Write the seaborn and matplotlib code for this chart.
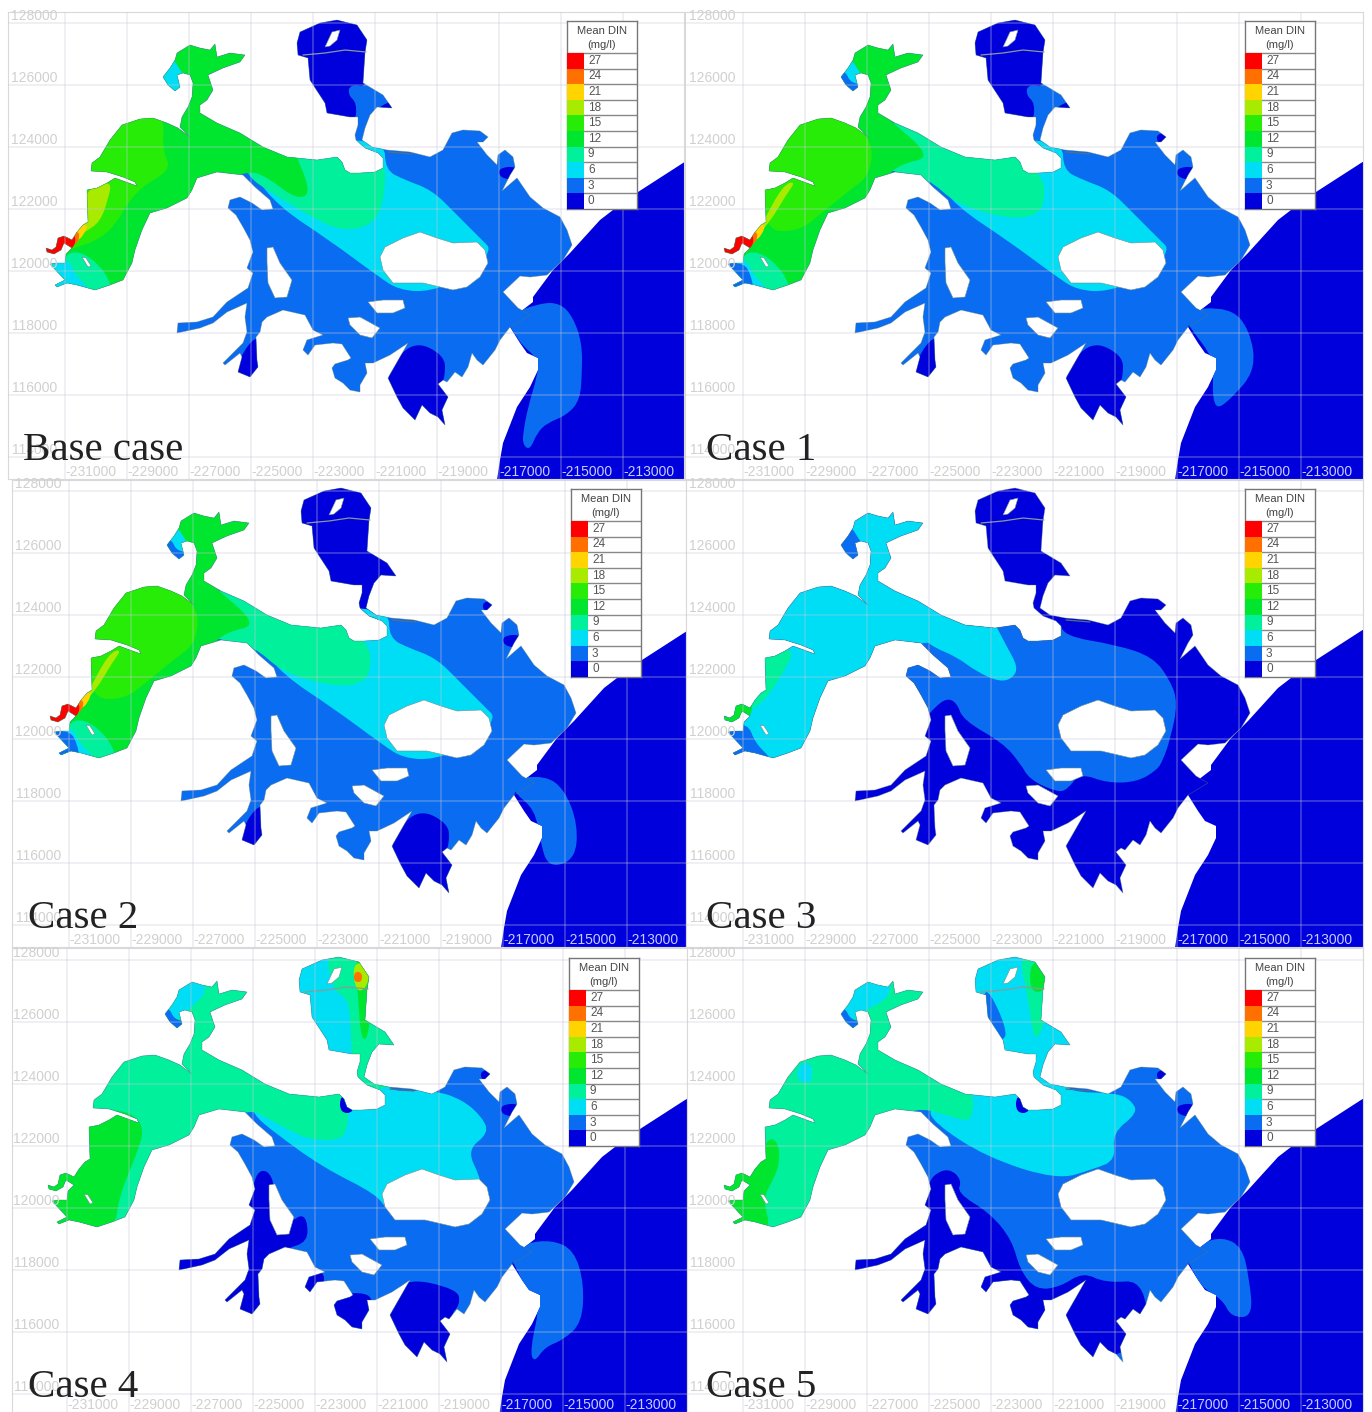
import numpy as np
import matplotlib
matplotlib.use("Agg")
import matplotlib.pyplot as plt
from matplotlib.colors import ListedColormap
from matplotlib.patches import PathPatch
from matplotlib.path import Path
import seaborn as sns

# colour classes of the DIN legend
levels = [27, 24, 21, 18, 15, 12, 9, 6, 3, 0]
level_colors = {27: "#ff0000", 24: "#ff7000", 21: "#ffd400", 18: "#a8ea00", 15: "#26ec08",
                12: "#00e62e", 9: "#00f09c", 6: "#00def5", 3: "#0a6cf0", 0: "#0000dc"}
x_ticks = list(range(-231000, -212000, 2000))
y_ticks = list(range(128000, 113000, -2000))

# outlines, in sheet units (31 units = 1000 m)
estuary = [(46, 248), (52, 250), (56, 247), (58, 238), (64, 236), (72, 240), (77, 232), (83, 225), (88, 222), (87, 190),
           (97, 188), (107, 183), (115, 178), (137, 186), (135, 182), (123, 177), (107, 172), (91, 171), (92, 163),
           (100, 157), (110, 140), (122, 125), (140, 119), (153, 118), (167, 123), (178, 128), (190, 137), (180, 127),
           (182, 117), (188, 107), (192, 97), (193, 83), (190, 75), (183, 73), (177, 75), (180, 87), (175, 91), (168, 85),
           (163, 77), (170, 68), (175, 60), (177, 53), (190, 45), (200, 48), (210, 50), (215, 44), (217, 57), (230, 53),
           (245, 55), (240, 62), (223, 68), (208, 75), (213, 90), (207, 100), (200, 105), (200, 113), (217, 123), (240, 133),
           (263, 147), (287, 157), (317, 160), (337, 157), (342, 162), (345, 170), (350, 173), (360, 173), (375, 172),
           (383, 168), (383, 158), (378, 153), (365, 148), (356, 140), (355, 135), (358, 125), (358, 117), (350, 117),
           (327, 113), (325, 103), (310, 80), (308, 58), (298, 55), (297, 43), (300, 32), (320, 23), (337, 20), (357, 25),
           (367, 40), (365, 53), (363, 83), (383, 95), (392, 108), (377, 107), (370, 115), (365, 128), (362, 140), (372, 147),
           (387, 150), (410, 152), (430, 157), (443, 150), (452, 133), (463, 130), (480, 131), (488, 137), (483, 142),
           (477, 142), (487, 155), (497, 165), (498, 155), (505, 150), (513, 157), (515, 167), (510, 175), (502, 191),
           (517, 178), (530, 197), (543, 208), (560, 217), (567, 230), (572, 245), (563, 260), (547, 275), (530, 277),
           (520, 276), (503, 292), (518, 308), (530, 315), (510, 327), (500, 340), (495, 350), (483, 365), (477, 360),
           (472, 353), (468, 367), (462, 377), (455, 372), (447, 382), (443, 380), (438, 384), (448, 397), (442, 410),
           (445, 425), (438, 417), (430, 413), (422, 405), (415, 420), (403, 408), (397, 397), (388, 378), (400, 357),
           (408, 343), (390, 355), (373, 363), (365, 363), (367, 373), (360, 385), (360, 392), (350, 390), (343, 383),
           (335, 378), (332, 368), (335, 364), (348, 360), (351, 358), (342, 344), (333, 343), (315, 345), (308, 355),
           (303, 350), (307, 340), (323, 335), (313, 330), (305, 315), (283, 310), (267, 317), (262, 322), (260, 332),
           (256, 337), (257, 360), (258, 367), (250, 377), (238, 372), (242, 357), (240, 353), (225, 365), (223, 363),
           (243, 343), (247, 332), (245, 317), (247, 303), (227, 312), (213, 323), (200, 328), (177, 333), (178, 323),
           (197, 322), (213, 317), (227, 302), (248, 288), (253, 273), (247, 268), (253, 252), (250, 240), (243, 227),
           (236, 215), (228, 208), (230, 200), (240, 197), (252, 203), (262, 210), (273, 209), (270, 200), (255, 187),
           (243, 175), (217, 172), (197, 178), (192, 190), (187, 198), (167, 208), (150, 213), (142, 230), (135, 250),
           (132, 263), (123, 280), (110, 285), (95, 290), (77, 285), (67, 283), (57, 287), (55, 285), (65, 280), (50, 264),
           (57, 263), (65, 263), (66, 254), (72, 248), (64, 243), (61, 250), (54, 254), (47, 252)]
sea = [(700, 153), (683, 163), (638, 192), (613, 210), (600, 220), (570, 253), (553, 270), (533, 297), (533, 302),
       (520, 312), (512, 322), (510, 327), (520, 343), (527, 353), (538, 358), (538, 370), (530, 387), (517, 407),
       (503, 443), (500, 460), (494, 500), (720, 500), (720, 153)]
central_island = [(380, 257), (385, 247), (403, 238), (420, 232), (437, 238), (453, 243), (477, 242), (485, 250),
                  (488, 263), (480, 277), (467, 287), (453, 290), (423, 283), (393, 283), (383, 270)]
inner_island = [(267, 248), (273, 247), (280, 263), (292, 280), (287, 297), (275, 298), (268, 283), (267, 262)]
south_island_a = [(368, 302), (383, 300), (403, 300), (405, 308), (393, 313), (377, 313)]
south_island_b = [(348, 318), (360, 317), (380, 328), (372, 338), (360, 335), (350, 325)]
bay_island = [(325, 47), (332, 32), (340, 30), (337, 40), (330, 46)]
sw_island = [(82, 257), (86, 258), (91, 266), (88, 267)]
holes = [central_island, inner_island, south_island_a, south_island_b, bay_island, sw_island]

# DIN zones, shared between cases
bay_upper = [(290, 10), (375, 10), (370, 88), (350, 84), (348, 95), (357, 103), (355, 125), (295, 125)]
bay_tip = [(380, 106), (395, 100), (395, 115), (378, 112)]
bay_all = [(290, 10), (400, 10), (400, 120), (372, 150), (378, 156), (350, 156), (295, 125)]
bay_cyan = [(290, 10), (400, 10), (400, 125), (372, 152), (390, 158), (345, 158), (295, 125)]
pond = [(256, 335), (265, 345), (265, 385), (235, 385), (239, 358)]
south_bay = [(412, 340), (445, 355), (445, 378), (440, 385), (455, 398), (450, 430), (385, 430), (385, 375)]
ne_tip = [(478, 134), (492, 132), (492, 146), (480, 144)]
east_spot = [(498, 168), (518, 166), (516, 180), (500, 178)]
inlet_spot = [(338, 158), (352, 158), (352, 176), (338, 176)]
hook_cyan = [(155, 60), (173, 58), (180, 70), (186, 78), (190, 100), (155, 100)]
hook_blue = [(158, 70), (168, 72), (172, 82), (185, 85), (185, 98), (158, 98)]
sw_teal = [(62, 256), (80, 250), (105, 270), (115, 297), (45, 297)]
sw_cyan = [(45, 260), (68, 258), (75, 275), (95, 294), (45, 297)]
sw_blue = [(45, 263), (66, 263), (73, 275), (76, 292), (45, 296)]
tail_red = [(40, 235), (72, 230), (77, 242), (68, 253), (40, 260)]
tail_orange = [(72, 232), (80, 232), (78, 243), (70, 246)]
tail_gold = [(76, 228), (88, 223), (84, 235), (76, 242)]

cyan_main = [(245, 165), (252, 173), (279, 207), (329, 240), (379, 277), (399, 290), (430, 292), (470, 275), (492, 250),
             (482, 240), (455, 213), (432, 190), (405, 180), (385, 170), (385, 140), (300, 140)]
teal_main = [(215, 115), (235, 125), (260, 145), (330, 150), (365, 175), (367, 200), (360, 215), (332, 219), (279, 205),
             (250, 178), (215, 172), (205, 165)]
green_main = [(30, 30), (260, 30), (260, 90), (205, 112), (209, 118), (255, 157), (222, 164), (205, 180), (150, 300), (30, 300)]
bright_main = [(85, 160), (115, 115), (165, 115), (195, 140), (192, 175), (172, 190), (145, 212), (120, 232), (85, 230)]
lime_main = [(105, 185), (118, 181), (108, 195), (92, 222), (78, 236), (85, 222)]

# Base case
plume_base = [(505, 316), (540, 303), (560, 303), (573, 317), (582, 343), (582, 373), (580, 400), (567, 415), (547, 423),
              (537, 433), (530, 450), (523, 445), (523, 433), (528, 407), (537, 377), (539, 360), (522, 345), (517, 337), (510, 327)]
teal_base = [(245, 165), (290, 150), (385, 150), (385, 200), (372, 226), (340, 231), (310, 216), (267, 190), (250, 178)]
green_base = [(30, 30), (290, 30), (293, 150), (307, 180), (308, 197), (293, 197), (267, 177), (248, 170), (200, 190), (150, 300), (30, 300)]
bright_base = [(85, 165), (100, 110), (165, 110), (162, 150), (172, 170), (135, 190), (110, 235), (70, 250), (60, 250)]
lime_base = [(85, 190), (112, 180), (108, 200), (100, 222), (85, 232), (72, 240), (80, 222)]

# Case 1 and 2 plumes
plume_c1 = [(502, 310), (552, 307), (572, 330), (578, 370), (552, 400), (537, 410), (534, 385), (537, 360), (510, 325)]
plume_c2 = [(503, 312), (541, 307), (561, 322), (574, 357), (571, 392), (544, 400), (536, 372), (531, 342), (511, 325)]

# Case 3
blue_c3 = [(314, 150), (382, 150), (385, 168), (439, 177), (475, 189), (492, 212), (500, 235), (492, 272), (485, 292),
           (479, 302), (459, 314), (429, 315), (402, 305), (389, 322), (379, 324), (352, 312), (342, 295), (325, 275),
           (285, 252), (279, 235), (269, 230), (257, 239), (248, 250), (220, 250), (220, 170)]
cyan_c3 = [(30, 30), (250, 30), (314, 150), (329, 179), (340, 199), (335, 210), (322, 214), (299, 204), (279, 189),
           (255, 179), (248, 172), (200, 195), (150, 300), (30, 300)]
sw_blue_c3 = [(45, 258), (70, 255), (77, 275), (95, 292), (85, 297), (45, 297)]
teal_c3 = [(80, 180), (118, 180), (105, 205), (92, 225), (78, 240), (70, 240)]
tail_c3 = [(40, 230), (72, 232), (75, 240), (70, 253), (40, 258)]

# Case 4
plume_c4 = [(505, 316), (524, 306), (550, 303), (572, 313), (582, 346), (580, 386), (561, 403), (543, 410), (532, 426), (528, 413),
            (539, 363), (524, 353), (513, 328)]
dark_west_c4 = [(255, 235), (265, 233), (272, 245), (270, 255), (290, 285), (298, 278), (305, 282), (306, 305), (283, 312),
                (262, 328), (262, 385), (230, 385), (215, 370), (170, 340), (170, 318), (240, 280), (250, 255)]
tongue_c4 = [(300, 336), (322, 333), (322, 350), (308, 360), (298, 360)]
lower_bay_c4 = [(330, 358), (360, 355), (372, 362), (372, 397), (330, 397)]
south_bay_c4 = [(400, 340), (456, 352), (458, 368), (448, 378), (455, 400), (455, 430), (385, 430), (385, 375)]
cyan_c4 = [(250, 170), (254, 180), (272, 195), (320, 230), (376, 258), (385, 275), (478, 248), (478, 240), (465, 213),
           (487, 196), (480, 180), (461, 163), (432, 153), (387, 155), (385, 140), (300, 140)]
teal_c4 = [(30, 30), (260, 30), (340, 140), (346, 165), (346, 190), (339, 203), (309, 203), (287, 193), (265, 181),
           (248, 172), (200, 190), (130, 300), (30, 300)]
hook_cyan_c4 = [(158, 40), (200, 40), (205, 55), (190, 70), (180, 78), (155, 100)]
green_c4 = [(80, 175), (124, 172), (144, 190), (131, 226), (117, 260), (112, 297), (30, 297), (30, 225)]
bay_teal_c4 = [(322, 12), (332, 55), (347, 62), (349, 100), (350, 125), (355, 147), (375, 153), (388, 150), (398, 112), (388, 92), (378, 12)]
bay_green_c4 = [(353, 18), (372, 18), (370, 60), (366, 102), (359, 102), (356, 60)]
bay_lime_c4 = [(350, 26), (368, 26), (366, 50), (354, 56)]
bay_orange_c4 = [(352, 35), (360, 35), (360, 45), (352, 45)]

# Case 5
plume_c5 = [(505, 316), (523, 306), (545, 300), (564, 310), (571, 340), (575, 380), (553, 380), (545, 363), (523, 350), (512, 328)]
dark_c5 = [(271, 231), (284, 243), (279, 256), (312, 276), (334, 303), (342, 333), (358, 353), (382, 350), (405, 335),
           (427, 346), (469, 343), (470, 430), (170, 430), (170, 300), (250, 250), (255, 238)]
bay_west_c5 = [(305, 55), (312, 55), (328, 90), (327, 105), (300, 100)]
cyan_c5 = [(250, 170), (256, 186), (308, 220), (379, 243), (416, 232), (438, 223), (434, 196), (460, 176), (453, 163),
           (438, 156), (390, 155), (387, 140), (280, 140)]
teal_c5 = [(30, 30), (260, 30), (286, 150), (296, 160), (294, 180), (288, 184), (268, 178), (238, 170), (200, 190), (130, 300), (30, 300)]
hook_cyan_c5 = [(160, 40), (212, 40), (212, 60), (190, 72), (180, 78), (155, 100)]
lobe_cyan_c5 = [(122, 126), (134, 126), (134, 145), (125, 146), (118, 140)]
green_c5 = [(90, 200), (100, 205), (102, 223), (97, 240), (84, 262), (95, 297), (30, 297), (30, 240), (75, 232)]
bay_teal_c5 = [(340, 15), (375, 15), (372, 60), (362, 100), (355, 100), (350, 60)]
bay_green_c5 = [(352, 25), (368, 25), (368, 55), (352, 55)]

core_a = [(6, cyan_main), (9, teal_main), (12, green_main), (15, bright_main), (18, lime_main),
          (21, tail_gold), (24, tail_orange), (27, tail_red), (9, sw_teal), (6, sw_cyan), (3, sw_blue),
          (6, hook_cyan), (3, hook_blue)]

case_names = ["Base case", "Case 1", "Case 2", "Case 3", "Case 4", "Case 5"]
case_background = [3, 3, 3, 0, 3, 3]
case_layers = [
    [(3, plume_base), (0, bay_upper), (0, bay_tip), (0, pond), (0, south_bay), (0, east_spot), (6, cyan_main), (9, teal_base),
     (12, green_base), (15, bright_base), (18, lime_base), (21, tail_gold), (24, tail_orange), (27, tail_red),
     (9, sw_teal), (6, sw_cyan), (6, hook_cyan)],
    [(3, plume_c1), (0, bay_upper), (0, bay_tip), (0, pond), (0, south_bay), (0, east_spot), (0, ne_tip)] + core_a,
    [(3, plume_c2), (0, bay_all), (0, pond), (0, south_bay), (0, east_spot), (0, ne_tip)] + core_a,
    [(3, blue_c3), (6, cyan_c3), (3, sw_blue_c3), (3, hook_cyan), (9, teal_c3), (12, tail_c3)],
    [(3, plume_c4), (0, dark_west_c4), (0, tongue_c4), (0, lower_bay_c4), (0, south_bay_c4), (0, ne_tip), (0, east_spot),
     (6, cyan_c4), (9, teal_c4), (12, green_c4), (6, hook_cyan_c4), (3, hook_blue), (0, inlet_spot), (6, bay_cyan),
     (9, bay_teal_c4), (12, bay_green_c4), (18, bay_lime_c4), (24, bay_orange_c4)],
    [(3, plume_c5), (0, dark_c5), (0, ne_tip), (0, east_spot), (6, cyan_c5), (9, teal_c5), (6, hook_cyan_c5), (3, hook_blue),
     (6, lobe_cyan_c5), (12, green_c5), (0, inlet_spot), (6, bay_cyan), (3, bay_west_c5), (9, bay_teal_c5), (12, bay_green_c5)],
]

# where each scanned panel sits on the page: left, right, top, bottom, shift of its map
panel_frames = [(8, 684, 12, 479, 0, 0), (685, 1363, 12, 479, 678, 0), (12, 686, 480, 947, 4, 468),
                (686, 1363, 480, 947, 678, 468), (12, 687, 948, 1412, 2, 937), (687, 1363, 948, 1412, 678, 937)]
label_x = [23, 28, 24, 28, 26, 28]
PAGE_W, PAGE_H = 1372, 1412


def map_x(u):
    return -231000 + (np.asarray(u, dtype=float) - 65) * 2000 / 62


def map_y(v):
    return 128000 - (np.asarray(v, dtype=float) - 23) * 2000 / 62


def to_map(points):
    return np.column_stack([map_x([p[0] for p in points]), map_y([p[1] for p in points])])


def plain_path(points):
    pts = to_map(points)
    return Path(np.vstack([pts, pts[:1]]), closed=True)


def smooth_path(points):
    # closed zone outline, rounded through the midpoints
    pts = to_map(points)
    mids = (pts + np.roll(pts, -1, axis=0)) / 2
    verts = [mids[-1]]
    codes = [Path.MOVETO]
    for p, m in zip(pts, mids):
        verts += [p, m]
        codes += [Path.CURVE3, Path.CURVE3]
    verts.append(mids[-1])
    codes.append(Path.CLOSEPOLY)
    return Path(np.array(verts), codes)


sns.set_theme(style="white")
plt.rcParams["font.family"] = ["Liberation Sans", "DejaVu Sans"]

fig = plt.figure(figsize=(PAGE_W / 100, PAGE_H / 100), dpi=100, facecolor="white")
legend_cmap = ListedColormap([level_colors[v] for v in levels[::-1]])
clip_path = Path.make_compound_path(plain_path(estuary), plain_path(sea[::-1]))

for i, name in enumerate(case_names):
    left, right, top, bottom, dx, dy = panel_frames[i]
    ax = fig.add_axes([left / PAGE_W, 1 - bottom / PAGE_H, (right - left) / PAGE_W, (bottom - top) / PAGE_H])
    ax.set_xlim(map_x(left - dx), map_x(right - dx))
    ax.set_ylim(map_y(bottom - dy), map_y(top - dy))
    ax.set_xticks([])
    ax.set_yticks([])
    for spine in ax.spines.values():
        spine.set_color("#d9d9d9")
        spine.set_linewidth(0.8)

    clip_patch = PathPatch(clip_path, fc="none", ec="none")
    ax.add_patch(clip_patch)
    ax.add_patch(PathPatch(plain_path(estuary), fc=level_colors[case_background[i]], ec="none", zorder=1))
    ax.add_patch(PathPatch(plain_path(sea), fc=level_colors[0], ec="none", zorder=1.1))

    for k, (level, shape) in enumerate(case_layers[i]):
        zone = PathPatch(smooth_path(shape), fc=level_colors[level], ec="none", zorder=1.2 + k * 0.01)
        ax.add_patch(zone)
        zone.set_clip_path(clip_patch)

    ax.add_patch(PathPatch(plain_path(estuary), fc="none", ec="#5a7a70", lw=0.5, alpha=0.5, joinstyle="round", zorder=2))
    for hole in holes:
        ax.add_patch(PathPatch(plain_path(hole), fc="white", ec="#6f8f90", lw=0.4, joinstyle="round", zorder=3))

    # channel survey lines
    ax.plot(map_x([303, 325, 345, 366]), map_y([55, 53, 50, 52]), color="#8a9a9a", lw=0.9, zorder=3)
    ax.plot(map_x([388, 412]), map_y([152, 154]), color="#50708a", lw=0.9, zorder=3)

    label_row = map_y(bottom - dy - 7)
    for x in x_ticks:
        ax.axvline(x, color="#c8c8d8", lw=1.2, alpha=0.33, zorder=4)
        col = "#c6ccff" if x >= -217000 else "#d0d0d0"
        ax.text(x, label_row, str(x), color=col, fontsize=10, ha="left", va="center", zorder=4)
    for y in y_ticks:
        ax.axhline(y, color="#c8c8d8", lw=1.2, alpha=0.33, zorder=4)
        ax.text(-231250, y + 220, str(y), color="#d0d0d0", fontsize=10, ha="right", va="center", zorder=4)

    ax.text(map_x(label_x[i]), map_y(460), name, family="Liberation Serif", fontsize=29.5, color="#222222",
            ha="left", va="baseline", zorder=6)

    # legend box with the colour column as a small heatmap
    box = ax.inset_axes([map_x(567), map_y(209), 70 * 2000 / 62, 188 * 2000 / 62], transform=ax.transData, zorder=5)
    box.set_facecolor("white")
    box.set_xticks([])
    box.set_yticks([])
    for spine in box.spines.values():
        spine.set_color("#777777")
        spine.set_linewidth(1)
    box.text(0.5, 0.945, "Mean DIN", transform=box.transAxes, fontsize=8, color="#444444", ha="center", va="center")
    box.text(0.5, 0.87, "(mg/l)", transform=box.transAxes, fontsize=8, color="#444444", ha="center", va="center")
    frac = 156 / 188
    swatch = box.inset_axes([0, 0, 17 / 70, frac])
    sns.heatmap(np.array(levels).reshape(-1, 1), ax=swatch, cmap=legend_cmap, vmin=-1.5, vmax=28.5,
                cbar=False, xticklabels=False, yticklabels=False)
    for r, v in enumerate(levels):
        row_top = frac * (1 - r / len(levels))
        box.plot([0, 1], [row_top, row_top], color="#888888", lw=1, transform=box.transAxes)
        box.text(21 / 70, row_top - frac / len(levels) / 2, str(v), transform=box.transAxes, fontsize=8.5,
                 color="#555555", ha="left", va="center")
    box.set_xlim(0, 1)
    box.set_ylim(0, 1)

fig.savefig("out.png", dpi=100, facecolor="white")
